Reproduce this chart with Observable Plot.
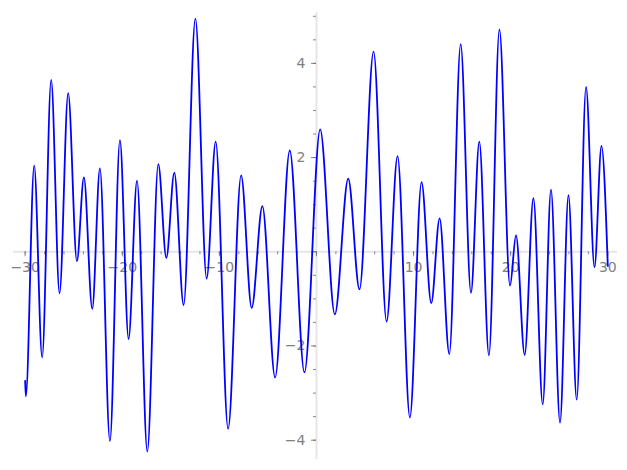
<!DOCTYPE html>
<html>
<head>
<meta charset="utf-8">
<script src="https://cdn.jsdelivr.net/npm/d3@7"></script>
<script src="https://cdn.jsdelivr.net/npm/@observablehq/plot@0.6"></script>
<style>
  html, body { margin: 0; padding: 0; background: #fff; }
  svg { display: block; }
</style>
</head>
<body>
<div id="chart"></div>
<script>
// Curve: successive turning points (x, y)
const xs = [-30, -29.93, -29.07, -28.25, -27.32, -26.46, -25.57, -24.67, -23.95, -23.09,
  -22.30, -21.27, -20.24, -19.35, -18.48, -17.42, -16.29, -15.46, -14.64, -13.68,
  -12.47, -11.31, -10.38, -9.10, -7.76, -6.67, -5.57, -4.26, -2.75, -1.24,
  0.38, 1.89, 3.27, 4.43, 5.88, 7.22, 8.35, 9.62, 10.82, 11.82,
  12.68, 13.68, 14.85, 15.91, 16.77, 17.76, 18.84, 19.93, 20.55, 21.44,
  22.34, 23.30, 24.15, 25.08, 25.95, 26.80, 27.76, 28.63, 29.35, 30];
const ys = [-2.74, -3.07, 1.83, -2.24, 3.65, -0.88, 3.37, -0.20, 1.58, -1.21,
  1.77, -4.02, 2.37, -1.85, 1.51, -4.24, 1.86, -0.13, 1.68, -1.13,
  4.95, -0.57, 2.34, -3.76, 1.62, -1.19, 0.97, -2.67, 2.15, -2.56,
  2.60, -1.33, 1.55, -0.80, 4.25, -1.48, 2.03, -3.52, 1.48, -1.09,
  0.71, -2.17, 4.41, -0.87, 2.34, -2.20, 4.72, -0.72, 0.35, -2.19,
  1.14, -3.24, 1.32, -3.63, 1.20, -3.14, 3.50, -0.33, 2.25, -0.30];

const xMajor = [-30, -20, -10, 0, 10, 20, 30];
const xMinor = d3.range(-30, 31, 2);
const yMajor = [-4, -2, 0, 2, 4];
const yMinor = d3.range(-4, 5.01, 0.5);
const xLabels = [-30, -20, -10, 10, 20, 30];
const yLabels = [-4, -2, 2, 4];

const pts = xs.map((x, i) => ({x, y: ys[i]}));
const fmt = d => String(d).replace("-", "\u2212");
const axisColor = "#e6e6e6";
const tickColor = "#6b6b6b";
const labelColor = "#808080";

const chart = Plot.plot({
  width: 627,
  height: 470,
  marginLeft: 13,
  marginRight: 10,
  marginTop: 12,
  marginBottom: 11,
  x: {domain: [-31.2, 31.0], axis: null},
  y: {domain: [-4.41, 5.08], axis: null},
  style: {fontFamily: "DejaVu Sans", fontSize: "12px", background: "#fff"},
  marks: [
    Plot.ruleY([0], {stroke: axisColor, strokeWidth: 2}),
    Plot.ruleX([0], {stroke: axisColor, strokeWidth: 2}),
    Plot.ruleX(xMinor, {x: d => d, y1: 0, y2: 0, insetBottom: -3, stroke: tickColor, strokeWidth: 0.8}),
    Plot.ruleX(xMajor, {x: d => d, y1: 0, y2: 0, insetBottom: -5, stroke: tickColor, strokeWidth: 0.8}),
    Plot.ruleY(yMinor, {y: d => d, x1: 0, x2: 0, insetLeft: -3, stroke: tickColor, strokeWidth: 0.8}),
    Plot.ruleY(yMajor, {y: d => d, x1: 0, x2: 0, insetLeft: -5, stroke: tickColor, strokeWidth: 0.8}),
    Plot.text(xLabels, {x: d => d, y: 0, dy: 16, text: fmt, fill: labelColor, fontSize: 14}),
    Plot.text(yLabels, {x: 0, y: d => d, dx: -11, textAnchor: "end", text: fmt, fill: labelColor, fontSize: 14}),
    Plot.line(pts, {x: "x", y: "y", stroke: "#0000ff", strokeWidth: 1.8, curve: "monotone-x"})
  ]
});
document.getElementById("chart").appendChild(chart);
</script>
</body>
</html>
